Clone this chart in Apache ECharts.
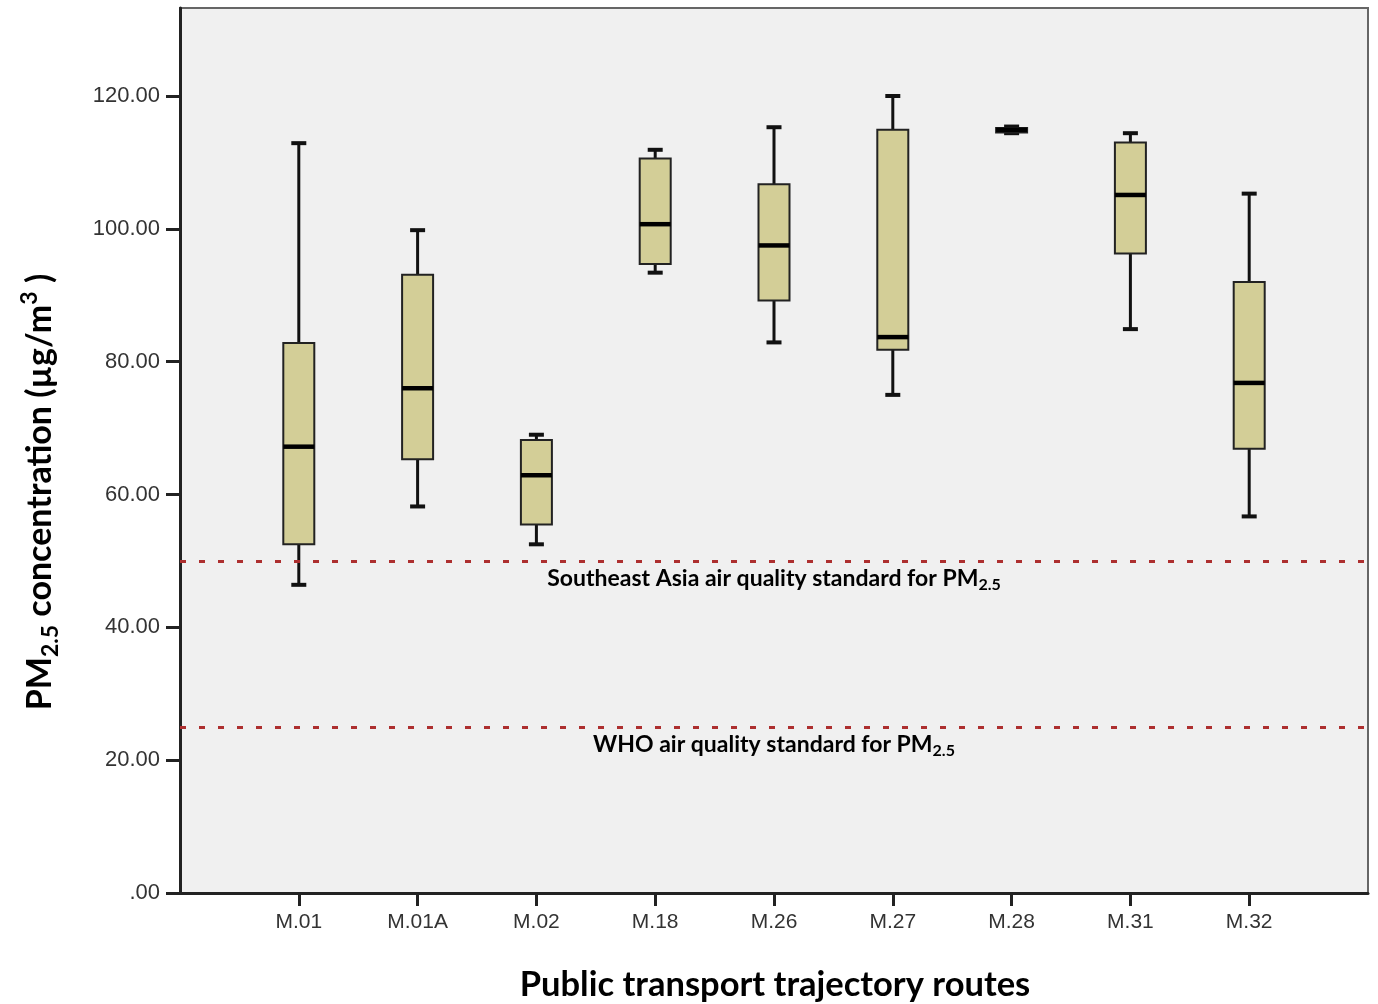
<!DOCTYPE html>
<html>
<head>
<meta charset="utf-8">
<script src="https://cdn.jsdelivr.net/npm/echarts@6/dist/echarts.min.js"></script>
<style>
  html, body { margin: 0; padding: 0; background: #fff; }
  #chart { width: 1378px; height: 1004px; }
</style>
</head>
<body>
<div id="chart"></div>
<script>
// routes (blank slots at both ends leave room like the original)
const routes = ['', 'M.01', 'M.01A', 'M.02', 'M.18', 'M.26', 'M.27', 'M.28', 'M.31', 'M.32', ''];
// box statistics per route
const lowWhisker = [46.4, 58.2, 52.5, 93.4, 82.9, 75.0, 114.4, 84.9, 56.7];
const q1Values   = [52.5, 65.3, 55.5, 94.7, 89.2, 81.8, 114.5, 96.3, 66.9];
const medians    = [67.2, 76.0, 62.9, 100.7, 97.5, 83.7, 114.9, 105.1, 76.8];
const q3Values   = [82.8, 93.1, 68.2, 110.6, 106.7, 114.9, 115.2, 113.0, 92.0];
const highWhisker = [112.9, 99.8, 69.0, 111.9, 115.3, 120.0, 115.4, 114.4, 105.3];
// reference standards
const seaStandard = 50;
const whoStandard = 25;
const yTicks = [0, 20, 40, 60, 80, 100, 120];

const boxData = medians.map((m, i) => [i + 1, lowWhisker[i], q1Values[i], m, q3Values[i], highWhisker[i]]);

function renderBox(params, api) {
  const x = api.value(0);
  const lo = api.coord([x, api.value(1)]);
  const q1 = api.coord([x, api.value(2)]);
  const md = api.coord([x, api.value(3)]);
  const q3 = api.coord([x, api.value(4)]);
  const hi = api.coord([x, api.value(5)]);
  const cx = lo[0];
  const bw = 31, cw = 15;
  const stroke = { stroke: '#111', lineWidth: 3 };
  return {
    type: 'group',
    children: [
      { type: 'line', shape: { x1: cx, y1: hi[1], x2: cx, y2: q3[1] }, style: stroke },
      { type: 'line', shape: { x1: cx, y1: q1[1], x2: cx, y2: lo[1] }, style: stroke },
      { type: 'line', shape: { x1: cx - cw / 2, y1: hi[1], x2: cx + cw / 2, y2: hi[1] }, style: { stroke: '#111', lineWidth: 4 } },
      { type: 'line', shape: { x1: cx - cw / 2, y1: lo[1], x2: cx + cw / 2, y2: lo[1] }, style: { stroke: '#111', lineWidth: 4 } },
      { type: 'rect', shape: { x: cx - bw / 2, y: q3[1], width: bw, height: q1[1] - q3[1] },
        style: { fill: '#d3ce97', stroke: '#222', lineWidth: 2 } },
      { type: 'line', shape: { x1: cx - bw / 2, y1: md[1], x2: cx + bw / 2, y2: md[1] }, style: { stroke: '#000', lineWidth: 4.5 } }
    ]
  };
}

const chart = echarts.init(document.getElementById('chart'));

const option = {
  backgroundColor: '#fff',
  animation: false,
  grid: {
    left: 180, right: 10, top: 8, bottom: 111,
    show: true, backgroundColor: '#f0f0f0', borderColor: '#666', borderWidth: 2
  },
  xAxis: {
    type: 'category',
    data: routes,
    boundaryGap: false,
    axisLine: { lineStyle: { color: '#222', width: 3 } },
    axisTick: {
      length: 13, lineStyle: { color: '#222', width: 3 },
      interval: (idx, val) => val !== ''
    },
    axisLabel: { interval: 0, margin: 19, color: '#333', fontSize: 21, fontFamily: 'Liberation Sans' },
    splitLine: { show: false }
  },
  yAxis: {
    type: 'value',
    min: 0, max: 133.25, interval: 20,
    axisLine: { show: true, lineStyle: { color: '#222', width: 3 } },
    axisTick: { show: true, length: 14, customValues: yTicks, lineStyle: { color: '#222', width: 3 } },
    axisLabel: {
      customValues: yTicks, margin: 20, color: '#333', fontSize: 22, fontFamily: 'Liberation Sans',
      formatter: v => (v === 0 ? '.00' : v.toFixed(2))
    },
    splitLine: { show: false }
  },
  graphic: [
    {
      type: 'text', x: 40, y: 492, rotation: Math.PI / 2,
      style: {
        text: '{a|PM}{s|2.5}{a| concentration (µg/m}{p|3}{a| )}',
        align: 'center', verticalAlign: 'middle',
        rich: {
          a: { fontSize: 34, fontWeight: 'bold', fontFamily: 'Lato', lineHeight: 44, fill: '#000' },
          s: { fontSize: 23, fontWeight: 'bold', fontFamily: 'Lato', lineHeight: 24, verticalAlign: 'bottom', fill: '#000' },
          p: { fontSize: 23, fontWeight: 'bold', fontFamily: 'Lato', lineHeight: 24, verticalAlign: 'top', fill: '#000' }
        }
      }
    },
    {
      type: 'text', x: 775, y: 985,
      style: {
        text: 'Public transport trajectory routes',
        align: 'center', verticalAlign: 'middle',
        font: 'bold 34.5px Lato', fill: '#000'
      }
    }
  ],
  series: [
    {
      type: 'custom',
      renderItem: renderBox,
      encode: { x: 0, y: [1, 2, 3, 4, 5] },
      data: boxData,
      z: 3
    },
    {
      type: 'line',
      data: [],
      markLine: {
        symbol: 'none',
        silent: true,
        lineStyle: { color: '#ad2f2f', type: [6, 13], width: 3 },
        label: {
          position: 'insideMiddleBottom',
          distance: 4,
          rich: {
            a: { fontSize: 23, fontWeight: 'bold', fontFamily: 'Lato', lineHeight: 28, color: '#000' },
            s: { fontSize: 16, fontWeight: 'bold', fontFamily: 'Lato', lineHeight: 16, verticalAlign: 'bottom', color: '#000' }
          }
        },
        data: [
          { yAxis: seaStandard, label: { formatter: '{a|Southeast Asia air quality standard for PM}{s|2.5}' } },
          { yAxis: whoStandard, label: { formatter: '{a|WHO air quality standard for PM}{s|2.5}' } }
        ]
      }
    }
  ]
};

chart.setOption(option);
</script>
</body>
</html>
